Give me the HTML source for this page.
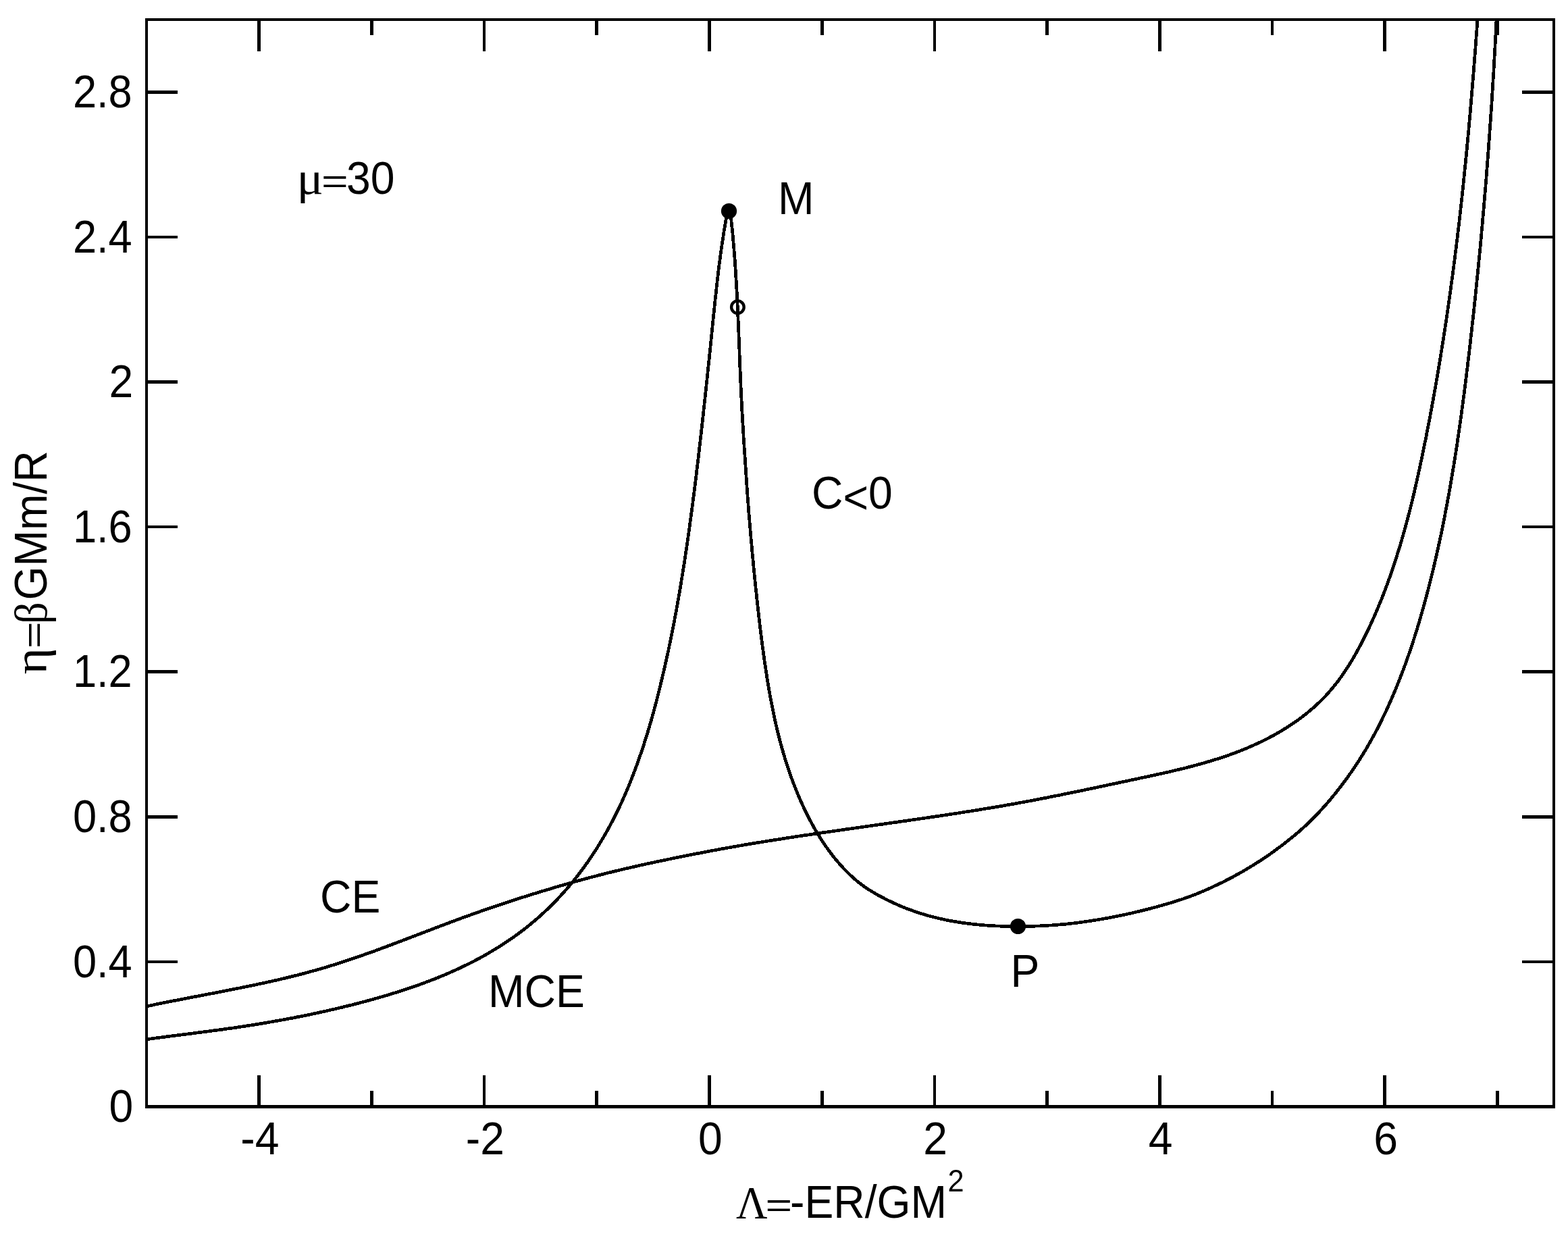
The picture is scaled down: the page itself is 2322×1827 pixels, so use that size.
<!DOCTYPE html>
<html lang="en"><head><meta charset="utf-8"><title>Caloric curve, mu=30</title>
<style>
html,body{margin:0;padding:0;background:#fff;}
body{width:2322px;height:1827px;overflow:hidden;}
svg{display:block;}
text{font-family:"Liberation Sans",sans-serif;fill:#000;}
.g{font-family:"Liberation Serif",serif;}
.ln{stroke:#000;stroke-width:4.4;fill:none;stroke-linecap:butt;stroke-linejoin:round;}
.cv{stroke-width:4.7;shape-rendering:crispEdges;}
</style></head><body>
<svg xmlns="http://www.w3.org/2000/svg" width="2322" height="1827" viewBox="0 0 2322 1827">
<rect x="0" y="0" width="2322" height="1827" fill="#fff"/>
<defs><clipPath id="fr"><rect x="216.9" y="29.0" width="2084.0" height="1609.5"/></clipPath></defs>
<g clip-path="url(#fr)">
<path class="ln cv" d="M210.0 1539.7 L215.9 1538.9 L221.9 1538.1 L227.8 1537.3 L233.7 1536.5 L239.7 1535.8 L245.6 1535.0 L251.5 1534.2 L257.5 1533.5 L263.4 1532.7 L269.3 1532.0 L275.3 1531.2 L281.2 1530.5 L287.1 1529.7 L293.0 1528.9 L299.0 1528.2 L304.9 1527.4 L310.8 1526.6 L316.7 1525.8 L322.6 1525.1 L328.6 1524.3 L334.5 1523.4 L340.4 1522.6 L346.3 1521.8 L352.2 1520.9 L358.1 1520.0 L364.0 1519.1 L369.9 1518.2 L375.8 1517.3 L381.7 1516.3 L387.6 1515.3 L393.5 1514.3 L399.4 1513.3 L405.3 1512.3 L411.2 1511.2 L417.0 1510.2 L422.9 1509.1 L428.8 1508.0 L434.7 1506.9 L440.5 1505.7 L446.4 1504.6 L452.3 1503.4 L458.1 1502.2 L464.0 1501.0 L469.8 1499.7 L475.7 1498.4 L481.5 1497.2 L487.3 1495.8 L493.2 1494.5 L499.0 1493.1 L504.8 1491.8 L510.6 1490.3 L516.5 1488.9 L522.3 1487.5 L528.1 1486.0 L533.9 1484.5 L539.7 1482.9 L545.5 1481.4 L551.2 1479.8 L557.0 1478.2 L562.8 1476.5 L568.6 1474.9 L574.3 1473.2 L580.1 1471.4 L585.8 1469.6 L591.6 1467.8 L597.3 1466.0 L603.0 1464.1 L608.7 1462.2 L614.4 1460.2 L620.1 1458.2 L625.8 1456.1 L631.4 1454.0 L637.1 1451.9 L642.7 1449.7 L648.3 1447.5 L653.8 1445.2 L659.4 1442.9 L664.9 1440.5 L670.4 1438.1 L675.9 1435.6 L681.3 1433.1 L686.7 1430.5 L692.1 1427.9 L697.4 1425.2 L702.8 1422.5 L708.1 1419.7 L713.3 1416.9 L718.5 1414.0 L723.7 1411.0 L728.8 1408.0 L733.9 1404.9 L739.0 1401.8 L744.0 1398.6 L749.0 1395.3 L754.0 1392.0 L758.8 1388.6 L763.7 1385.2 L768.5 1381.6 L773.3 1378.1 L778.0 1374.4 L782.6 1370.7 L787.2 1367.0 L791.8 1363.1 L796.3 1359.3 L800.7 1355.3 L805.1 1351.3 L809.5 1347.2 L813.8 1343.1 L818.0 1338.9 L822.2 1334.7 L826.3 1330.4 L830.4 1326.0 L834.4 1321.6 L838.3 1317.2 L842.2 1312.7 L846.1 1308.1 L849.9 1303.5 L853.6 1298.8 L857.2 1294.1 L860.8 1289.3 L864.4 1284.5 L867.9 1279.6 L871.3 1274.8 L874.7 1269.8 L878.0 1264.8 L881.3 1259.8 L884.5 1254.8 L887.6 1249.7 L890.7 1244.5 L893.8 1239.4 L896.8 1234.2 L899.7 1229.0 L902.6 1223.7 L905.4 1218.4 L908.2 1213.1 L910.9 1207.8 L913.6 1202.4 L916.2 1197.0 L918.8 1191.6 L921.3 1186.2 L923.7 1180.7 L926.1 1175.3 L928.5 1169.8 L930.8 1164.3 L933.0 1158.7 L935.2 1153.2 L937.4 1147.6 L939.5 1142.0 L941.6 1136.4 L943.7 1130.8 L945.7 1125.2 L947.6 1119.6 L949.6 1113.9 L951.5 1108.2 L953.4 1102.5 L955.2 1096.8 L957.0 1091.1 L958.8 1085.4 L960.5 1079.7 L962.2 1073.9 L963.9 1068.2 L965.5 1062.4 L967.1 1056.6 L968.7 1050.9 L970.2 1045.1 L971.8 1039.3 L973.3 1033.5 L974.8 1027.7 L976.2 1021.9 L977.6 1016.0 L979.0 1010.2 L980.4 1004.4 L981.8 998.6 L983.2 992.7 L984.5 986.9 L985.8 981.0 L987.1 975.2 L988.4 969.3 L989.7 963.5 L990.9 957.6 L992.1 951.8 L993.3 945.9 L994.5 940.1 L995.7 934.2 L996.9 928.3 L998.0 922.4 L999.1 916.6 L1000.2 910.7 L1001.3 904.8 L1002.4 898.9 L1003.4 893.0 L1004.4 887.2 L1005.5 881.3 L1006.5 875.4 L1007.5 869.5 L1008.5 863.6 L1009.4 857.7 L1010.4 851.8 L1011.3 845.9 L1012.3 840.0 L1013.2 834.1 L1014.1 828.2 L1015.0 822.2 L1015.9 816.3 L1016.8 810.4 L1017.6 804.5 L1018.5 798.6 L1019.3 792.7 L1020.2 786.7 L1021.0 780.8 L1021.8 774.9 L1022.6 769.0 L1023.4 763.0 L1024.2 757.1 L1025.0 751.2 L1025.8 745.2 L1026.5 739.3 L1027.3 733.4 L1028.1 727.4 L1028.8 721.5 L1029.5 715.6 L1030.3 709.6 L1031.0 703.7 L1031.7 697.7 L1032.4 691.8 L1033.2 685.8 L1033.9 679.9 L1034.6 674.0 L1035.2 668.0 L1035.9 662.1 L1036.6 656.1 L1037.3 650.2 L1038.0 644.2 L1038.6 638.3 L1039.3 632.3 L1040.0 626.4 L1040.6 620.4 L1041.3 614.5 L1041.9 608.5 L1042.6 602.6 L1043.2 596.6 L1043.9 590.7 L1044.5 584.7 L1045.2 578.8 L1045.8 572.8 L1046.4 566.9 L1047.1 560.9 L1047.7 555.0 L1048.3 549.0 L1048.9 543.1 L1049.5 537.1 L1050.2 531.2 L1050.8 525.2 L1051.4 519.3 L1052.0 513.3 L1052.6 507.4 L1053.2 501.4 L1053.8 495.5 L1054.4 489.6 L1055.0 483.6 L1055.6 477.7 L1056.2 471.7 L1056.8 465.8 L1057.5 459.8 L1058.1 453.9 L1058.7 448.0 L1059.3 442.0 L1060.0 436.1 L1060.6 430.1 L1061.3 424.2 L1061.9 418.3 L1062.6 412.3 L1063.3 406.4 L1064.0 400.5 L1064.7 394.6 L1065.5 388.6 L1066.3 382.7 L1067.1 376.8 L1067.9 370.9 L1068.7 365.0 L1069.6 359.1 L1070.5 353.2 L1071.4 347.3 L1072.3 341.4 L1073.3 335.5 L1074.3 329.6 L1075.3 323.7 L1076.3 317.9 L1077.4 312.0 L1082.0 318.1 L1082.7 324.0 L1083.3 329.9 L1083.9 335.8 L1084.5 341.7 L1085.1 347.6 L1085.6 353.6 L1086.1 359.5 L1086.7 365.4 L1087.1 371.4 L1087.6 377.3 L1088.1 383.3 L1088.5 389.3 L1088.9 395.2 L1089.3 401.2 L1089.7 407.2 L1090.0 413.1 L1090.4 419.1 L1090.7 425.1 L1091.1 431.1 L1091.4 437.1 L1091.7 443.1 L1092.0 449.1 L1092.3 455.1 L1092.5 461.1 L1092.8 467.1 L1093.1 473.1 L1093.3 479.1 L1093.6 485.1 L1093.8 491.1 L1094.1 497.1 L1094.3 503.1 L1094.5 509.1 L1094.8 515.1 L1095.0 521.1 L1095.2 527.1 L1095.5 533.1 L1095.7 539.1 L1095.9 545.1 L1096.2 551.1 L1096.4 557.1 L1096.7 563.1 L1097.0 569.1 L1097.2 575.1 L1097.5 581.1 L1097.8 587.1 L1098.1 593.1 L1098.4 599.1 L1098.7 605.1 L1099.0 611.1 L1099.4 617.0 L1099.7 623.0 L1100.1 629.0 L1100.4 635.0 L1100.8 640.9 L1101.1 646.9 L1101.5 652.9 L1101.9 658.8 L1102.3 664.8 L1102.7 670.7 L1103.1 676.7 L1103.5 682.7 L1103.9 688.6 L1104.3 694.6 L1104.7 700.5 L1105.1 706.5 L1105.5 712.4 L1105.9 718.4 L1106.3 724.3 L1106.7 730.3 L1107.2 736.2 L1107.6 742.1 L1108.1 748.1 L1108.5 754.0 L1109.0 760.0 L1109.5 765.9 L1110.0 771.9 L1110.5 777.8 L1111.0 783.8 L1111.5 789.7 L1112.0 795.6 L1112.5 801.6 L1113.1 807.5 L1113.6 813.5 L1114.1 819.4 L1114.7 825.4 L1115.3 831.3 L1115.8 837.3 L1116.4 843.2 L1117.0 849.2 L1117.6 855.1 L1118.2 861.1 L1118.8 867.0 L1119.4 873.0 L1120.1 878.9 L1120.7 884.9 L1121.3 890.9 L1122.0 896.8 L1122.7 902.8 L1123.3 908.8 L1124.0 914.7 L1124.7 920.7 L1125.4 926.7 L1126.1 932.6 L1126.8 938.6 L1127.6 944.6 L1128.4 950.6 L1129.1 956.6 L1129.9 962.5 L1130.7 968.5 L1131.6 974.5 L1132.4 980.5 L1133.3 986.4 L1134.2 992.4 L1135.1 998.3 L1136.0 1004.3 L1137.0 1010.3 L1138.0 1016.2 L1139.0 1022.1 L1140.0 1028.1 L1141.1 1034.0 L1142.2 1039.9 L1143.4 1045.8 L1144.6 1051.7 L1145.8 1057.6 L1147.0 1063.4 L1148.3 1069.3 L1149.7 1075.2 L1151.0 1081.0 L1152.5 1086.8 L1153.9 1092.6 L1155.4 1098.4 L1157.0 1104.2 L1158.6 1109.9 L1160.3 1115.7 L1162.0 1121.4 L1163.7 1127.1 L1165.5 1132.8 L1167.4 1138.5 L1169.3 1144.1 L1171.3 1149.8 L1173.4 1155.4 L1175.5 1161.0 L1177.7 1166.5 L1179.9 1172.1 L1182.2 1177.6 L1184.5 1183.1 L1187.0 1188.6 L1189.4 1194.0 L1192.0 1199.4 L1194.6 1204.8 L1197.3 1210.2 L1200.1 1215.5 L1203.0 1220.8 L1205.9 1226.0 L1208.9 1231.2 L1212.0 1236.3 L1215.2 1241.4 L1218.4 1246.4 L1221.8 1251.4 L1225.2 1256.2 L1228.7 1261.0 L1232.3 1265.8 L1235.9 1270.4 L1239.7 1275.0 L1243.6 1279.4 L1247.5 1283.8 L1251.5 1288.1 L1255.7 1292.2 L1259.9 1296.3 L1264.2 1300.2 L1268.6 1304.0 L1273.1 1307.6 L1277.7 1311.1 L1282.4 1314.4 L1287.2 1317.5 L1292.1 1320.5 L1297.1 1323.5 L1302.1 1326.3 L1307.3 1329.0 L1312.5 1331.7 L1317.8 1334.3 L1323.2 1336.8 L1328.7 1339.3 L1334.2 1341.7 L1339.7 1344.0 L1345.4 1346.1 L1351.1 1348.2 L1356.8 1350.2 L1362.6 1352.1 L1368.4 1353.9 L1374.2 1355.6 L1380.1 1357.2 L1386.1 1358.7 L1392.0 1360.1 L1398.0 1361.4 L1404.0 1362.7 L1410.0 1363.8 L1416.0 1364.8 L1422.1 1365.8 L1428.1 1366.7 L1434.2 1367.4 L1440.2 1368.2 L1446.2 1368.8 L1452.3 1369.4 L1458.3 1369.9 L1464.3 1370.3 L1470.3 1370.7 L1476.4 1371.0 L1482.4 1371.2 L1488.4 1371.4 L1494.4 1371.6 L1500.4 1371.6 L1506.4 1371.7 L1512.4 1371.7 L1518.4 1371.6 L1524.3 1371.4 L1530.3 1371.3 L1536.3 1371.0 L1542.3 1370.8 L1548.2 1370.5 L1554.2 1370.1 L1560.1 1369.7 L1566.1 1369.2 L1572.0 1368.7 L1578.0 1368.2 L1583.9 1367.5 L1589.9 1366.9 L1595.8 1366.1 L1601.7 1365.4 L1607.6 1364.5 L1613.6 1363.6 L1619.5 1362.7 L1625.4 1361.8 L1631.3 1360.8 L1637.2 1359.7 L1643.1 1358.7 L1649.0 1357.5 L1654.8 1356.4 L1660.7 1355.1 L1666.6 1353.9 L1672.5 1352.6 L1678.3 1351.3 L1684.2 1349.9 L1690.0 1348.5 L1695.9 1347.0 L1701.7 1345.6 L1707.5 1344.0 L1713.3 1342.5 L1719.1 1340.9 L1724.9 1339.2 L1730.7 1337.5 L1736.4 1335.8 L1742.2 1334.0 L1747.9 1332.2 L1753.6 1330.3 L1759.2 1328.3 L1764.9 1326.2 L1770.5 1324.1 L1776.1 1321.8 L1781.6 1319.5 L1787.2 1317.0 L1792.7 1314.6 L1798.1 1312.0 L1803.6 1309.5 L1809.0 1306.9 L1814.4 1304.2 L1819.7 1301.5 L1825.0 1298.7 L1830.2 1295.8 L1835.5 1292.9 L1840.7 1290.0 L1845.8 1287.0 L1850.9 1283.9 L1856.0 1280.8 L1861.0 1277.6 L1866.0 1274.4 L1871.0 1271.2 L1875.9 1267.8 L1880.8 1264.5 L1885.6 1261.0 L1890.4 1257.5 L1895.1 1254.0 L1899.9 1250.5 L1904.5 1246.9 L1909.1 1243.2 L1913.7 1239.5 L1918.3 1235.7 L1922.8 1231.9 L1927.2 1228.0 L1931.7 1223.9 L1936.1 1219.9 L1940.4 1215.7 L1944.7 1211.5 L1948.9 1207.2 L1953.0 1202.8 L1957.1 1198.4 L1961.1 1194.0 L1965.1 1189.5 L1969.0 1184.9 L1972.8 1180.3 L1976.6 1175.7 L1980.3 1171.0 L1984.0 1166.3 L1987.6 1161.5 L1991.2 1156.7 L1994.8 1151.9 L1998.3 1147.0 L2001.7 1142.1 L2005.1 1137.2 L2008.4 1132.2 L2011.7 1127.2 L2014.9 1122.1 L2018.1 1117.0 L2021.2 1111.9 L2024.3 1106.8 L2027.3 1101.6 L2030.2 1096.4 L2033.1 1091.2 L2036.0 1085.9 L2038.8 1080.7 L2041.5 1075.4 L2044.2 1070.0 L2046.8 1064.7 L2049.4 1059.3 L2052.0 1053.9 L2054.5 1048.5 L2056.9 1043.1 L2059.4 1037.6 L2061.8 1032.1 L2064.1 1026.6 L2066.4 1021.1 L2068.7 1015.6 L2070.9 1010.0 L2073.1 1004.4 L2075.3 998.8 L2077.4 993.2 L2079.5 987.6 L2081.6 982.0 L2083.6 976.3 L2085.6 970.7 L2087.6 965.0 L2089.5 959.3 L2091.4 953.6 L2093.2 947.9 L2095.1 942.2 L2096.9 936.5 L2098.6 930.8 L2100.4 925.0 L2102.1 919.3 L2103.7 913.5 L2105.4 907.8 L2107.0 902.0 L2108.6 896.3 L2110.2 890.5 L2111.8 884.7 L2113.3 878.9 L2114.8 873.1 L2116.3 867.3 L2117.8 861.5 L2119.2 855.7 L2120.7 849.9 L2122.1 844.1 L2123.5 838.3 L2124.8 832.5 L2126.2 826.6 L2127.5 820.8 L2128.8 815.0 L2130.1 809.1 L2131.4 803.3 L2132.6 797.4 L2133.9 791.6 L2135.1 785.7 L2136.3 779.9 L2137.5 774.0 L2138.7 768.1 L2139.8 762.3 L2140.9 756.4 L2142.1 750.5 L2143.2 744.6 L2144.2 738.7 L2145.3 732.8 L2146.4 726.9 L2147.4 721.0 L2148.4 715.1 L2149.4 709.2 L2150.4 703.3 L2151.4 697.4 L2152.4 691.5 L2153.4 685.6 L2154.3 679.7 L2155.2 673.8 L2156.2 667.8 L2157.1 661.9 L2158.0 656.0 L2158.8 650.0 L2159.7 644.1 L2160.6 638.2 L2161.4 632.3 L2162.3 626.3 L2163.1 620.4 L2163.9 614.4 L2164.7 608.5 L2165.5 602.6 L2166.3 596.6 L2167.1 590.7 L2167.9 584.7 L2168.6 578.8 L2169.4 572.8 L2170.1 566.9 L2170.9 560.9 L2171.6 555.0 L2172.3 549.0 L2173.1 543.1 L2173.8 537.1 L2174.5 531.2 L2175.2 525.2 L2175.9 519.3 L2176.6 513.3 L2177.3 507.4 L2177.9 501.4 L2178.6 495.4 L2179.3 489.5 L2179.9 483.5 L2180.6 477.6 L2181.3 471.6 L2181.9 465.7 L2182.6 459.7 L2183.2 453.8 L2183.8 447.8 L2184.5 441.9 L2185.1 435.9 L2185.7 429.9 L2186.3 424.0 L2186.9 418.0 L2187.5 412.1 L2188.1 406.1 L2188.7 400.2 L2189.3 394.2 L2189.9 388.2 L2190.4 382.3 L2191.0 376.3 L2191.6 370.4 L2192.2 364.4 L2192.7 358.5 L2193.3 352.5 L2193.8 346.5 L2194.3 340.6 L2194.9 334.6 L2195.4 328.7 L2195.9 322.7 L2196.5 316.7 L2197.0 310.8 L2197.5 304.8 L2198.0 298.8 L2198.5 292.9 L2199.0 286.9 L2199.5 280.9 L2200.0 275.0 L2200.5 269.0 L2201.0 263.1 L2201.4 257.1 L2201.9 251.1 L2202.4 245.2 L2202.8 239.2 L2203.3 233.2 L2203.7 227.3 L2204.2 221.3 L2204.6 215.3 L2205.0 209.3 L2205.5 203.4 L2205.9 197.4 L2206.3 191.4 L2206.7 185.5 L2207.2 179.5 L2207.6 173.5 L2208.0 167.5 L2208.4 161.6 L2208.8 155.6 L2209.2 149.6 L2209.5 143.6 L2209.9 137.7 L2210.3 131.7 L2210.7 125.7 L2211.0 119.7 L2211.4 113.7 L2211.8 107.8 L2212.1 101.8 L2212.5 95.8 L2212.8 89.8 L2213.1 83.8 L2213.5 77.8 L2213.8 71.9 L2214.1 65.9 L2214.5 59.9 L2214.8 53.9 L2215.1 47.9 L2215.4 41.9 L2215.7 35.9 L2216.0 29.9 L2216.3 23.9 L2216.6 17.9 L2216.9 12.0"/>
<path class="ln cv" d="M210.1 1491.4 L215.9 1490.2 L221.7 1488.9 L227.6 1487.7 L233.4 1486.5 L239.3 1485.3 L245.2 1484.1 L251.0 1483.0 L256.9 1481.8 L262.8 1480.7 L268.6 1479.5 L274.5 1478.4 L280.4 1477.2 L286.3 1476.1 L292.2 1475.0 L298.1 1473.9 L304.0 1472.7 L309.9 1471.6 L315.8 1470.5 L321.7 1469.3 L327.6 1468.2 L333.4 1467.0 L339.3 1465.9 L345.2 1464.7 L351.1 1463.6 L357.0 1462.4 L362.9 1461.2 L368.8 1460.0 L374.6 1458.8 L380.5 1457.5 L386.4 1456.3 L392.2 1455.0 L398.1 1453.7 L404.0 1452.4 L409.8 1451.1 L415.6 1449.7 L421.5 1448.4 L427.3 1446.9 L433.1 1445.5 L438.9 1444.1 L444.7 1442.6 L450.5 1441.1 L456.3 1439.5 L462.1 1437.9 L467.9 1436.3 L473.6 1434.7 L479.4 1433.0 L485.1 1431.3 L490.8 1429.5 L496.5 1427.8 L502.2 1426.0 L507.9 1424.1 L513.6 1422.2 L519.3 1420.3 L525.0 1418.4 L530.6 1416.5 L536.3 1414.5 L541.9 1412.5 L547.6 1410.5 L553.2 1408.5 L558.9 1406.4 L564.5 1404.3 L570.1 1402.3 L575.7 1400.2 L581.3 1398.1 L587.0 1395.9 L592.6 1393.8 L598.2 1391.7 L603.8 1389.5 L609.4 1387.4 L615.0 1385.3 L620.6 1383.1 L626.2 1381.0 L631.8 1378.8 L637.4 1376.7 L643.0 1374.5 L648.6 1372.4 L654.2 1370.3 L659.9 1368.2 L665.5 1366.0 L671.1 1363.9 L676.7 1361.9 L682.3 1359.8 L688.0 1357.7 L693.6 1355.7 L699.2 1353.7 L704.9 1351.7 L710.5 1349.7 L716.2 1347.7 L721.9 1345.7 L727.5 1343.8 L733.2 1341.9 L738.9 1340.0 L744.6 1338.1 L750.2 1336.2 L755.9 1334.4 L761.6 1332.5 L767.3 1330.7 L773.0 1328.8 L778.7 1327.0 L784.5 1325.2 L790.2 1323.4 L795.9 1321.7 L801.6 1319.9 L807.4 1318.2 L813.1 1316.5 L818.8 1314.7 L824.6 1313.0 L830.3 1311.4 L836.1 1309.7 L841.9 1308.1 L847.6 1306.4 L853.4 1304.8 L859.2 1303.2 L864.9 1301.6 L870.7 1300.1 L876.5 1298.5 L882.3 1297.0 L888.1 1295.5 L893.9 1294.0 L899.7 1292.5 L905.5 1291.1 L911.3 1289.7 L917.1 1288.3 L922.9 1286.9 L928.7 1285.6 L934.6 1284.2 L940.4 1282.9 L946.2 1281.6 L952.1 1280.3 L957.9 1279.0 L963.7 1277.7 L969.6 1276.5 L975.4 1275.2 L981.3 1274.0 L987.1 1272.8 L993.0 1271.6 L998.8 1270.4 L1004.7 1269.2 L1010.6 1268.0 L1016.4 1266.9 L1022.3 1265.7 L1028.2 1264.5 L1034.1 1263.4 L1039.9 1262.3 L1045.8 1261.1 L1051.7 1260.0 L1057.6 1258.9 L1063.5 1257.8 L1069.4 1256.7 L1075.3 1255.7 L1081.2 1254.6 L1087.1 1253.6 L1093.0 1252.5 L1098.9 1251.5 L1104.8 1250.5 L1110.7 1249.5 L1116.6 1248.5 L1122.5 1247.5 L1128.5 1246.6 L1134.4 1245.6 L1140.3 1244.7 L1146.2 1243.7 L1152.1 1242.8 L1158.1 1241.9 L1164.0 1240.9 L1169.9 1240.0 L1175.9 1239.1 L1181.8 1238.2 L1187.7 1237.3 L1193.7 1236.4 L1199.6 1235.6 L1205.5 1234.7 L1211.5 1233.8 L1217.4 1232.9 L1223.3 1232.1 L1229.3 1231.2 L1235.2 1230.4 L1241.2 1229.5 L1247.1 1228.7 L1253.0 1227.8 L1259.0 1227.0 L1264.9 1226.1 L1270.9 1225.3 L1276.8 1224.4 L1282.8 1223.6 L1288.7 1222.8 L1294.6 1221.9 L1300.6 1221.1 L1306.5 1220.3 L1312.5 1219.4 L1318.4 1218.6 L1324.3 1217.7 L1330.3 1216.9 L1336.2 1216.0 L1342.1 1215.2 L1348.1 1214.3 L1354.0 1213.5 L1359.9 1212.6 L1365.9 1211.8 L1371.8 1210.9 L1377.7 1210.0 L1383.7 1209.1 L1389.6 1208.3 L1395.5 1207.4 L1401.4 1206.5 L1407.3 1205.6 L1413.3 1204.7 L1419.2 1203.8 L1425.1 1202.8 L1431.0 1201.9 L1436.9 1201.0 L1442.8 1200.0 L1448.7 1199.1 L1454.6 1198.1 L1460.5 1197.1 L1466.4 1196.2 L1472.3 1195.2 L1478.2 1194.2 L1484.1 1193.2 L1490.0 1192.1 L1495.9 1191.1 L1501.7 1190.1 L1507.6 1189.0 L1513.5 1187.9 L1519.4 1186.9 L1525.2 1185.8 L1531.1 1184.6 L1536.9 1183.5 L1542.8 1182.4 L1548.7 1181.3 L1554.5 1180.1 L1560.4 1178.9 L1566.2 1177.8 L1572.1 1176.6 L1577.9 1175.4 L1583.8 1174.2 L1589.6 1173.0 L1595.5 1171.8 L1601.3 1170.6 L1607.2 1169.4 L1613.0 1168.1 L1618.9 1166.9 L1624.7 1165.7 L1630.6 1164.4 L1636.5 1163.2 L1642.3 1161.9 L1648.2 1160.7 L1654.1 1159.4 L1659.9 1158.2 L1665.8 1156.9 L1671.7 1155.7 L1677.6 1154.4 L1683.5 1153.2 L1689.4 1151.9 L1695.3 1150.7 L1701.2 1149.4 L1707.1 1148.1 L1713.0 1146.8 L1718.9 1145.5 L1724.8 1144.2 L1730.7 1142.9 L1736.5 1141.5 L1742.4 1140.1 L1748.3 1138.7 L1754.1 1137.3 L1760.0 1135.8 L1765.8 1134.3 L1771.7 1132.7 L1777.5 1131.1 L1783.3 1129.5 L1789.0 1127.8 L1794.8 1126.1 L1800.6 1124.3 L1806.3 1122.5 L1812.0 1120.6 L1817.7 1118.7 L1823.3 1116.7 L1828.9 1114.6 L1834.6 1112.5 L1840.1 1110.3 L1845.7 1108.0 L1851.2 1105.6 L1856.7 1103.2 L1862.2 1100.7 L1867.6 1098.2 L1873.0 1095.5 L1878.3 1092.8 L1883.6 1090.0 L1888.9 1087.1 L1894.1 1084.1 L1899.2 1081.1 L1904.3 1077.9 L1909.3 1074.7 L1914.3 1071.4 L1919.2 1068.0 L1924.1 1064.6 L1928.8 1061.0 L1933.5 1057.4 L1938.1 1053.6 L1942.6 1049.8 L1947.1 1045.9 L1951.4 1041.9 L1955.7 1037.8 L1959.9 1033.6 L1964.0 1029.3 L1967.9 1024.9 L1971.8 1020.4 L1975.6 1015.8 L1979.3 1011.2 L1982.9 1006.5 L1986.4 1001.6 L1989.8 996.8 L1993.1 991.8 L1996.4 986.8 L1999.5 981.7 L2002.6 976.6 L2005.7 971.4 L2008.6 966.2 L2011.5 960.9 L2014.4 955.6 L2017.2 950.2 L2019.9 944.9 L2022.6 939.5 L2025.2 934.1 L2027.8 928.7 L2030.3 923.2 L2032.8 917.8 L2035.2 912.3 L2037.6 906.8 L2040.0 901.3 L2042.3 895.7 L2044.6 890.2 L2046.8 884.6 L2049.0 879.1 L2051.1 873.5 L2053.2 867.9 L2055.3 862.3 L2057.3 856.6 L2059.3 851.0 L2061.3 845.3 L2063.2 839.6 L2065.1 834.0 L2066.9 828.3 L2068.7 822.6 L2070.5 816.8 L2072.3 811.1 L2074.0 805.4 L2075.7 799.6 L2077.4 793.9 L2079.0 788.1 L2080.6 782.3 L2082.2 776.5 L2083.8 770.7 L2085.3 764.9 L2086.8 759.1 L2088.3 753.3 L2089.7 747.5 L2091.2 741.7 L2092.6 735.8 L2094.0 730.0 L2095.3 724.1 L2096.7 718.3 L2098.0 712.4 L2099.3 706.5 L2100.6 700.7 L2101.9 694.8 L2103.2 688.9 L2104.4 683.1 L2105.7 677.2 L2106.9 671.3 L2108.1 665.4 L2109.3 659.5 L2110.5 653.6 L2111.7 647.8 L2112.8 641.9 L2114.0 636.0 L2115.1 630.1 L2116.2 624.2 L2117.4 618.3 L2118.5 612.4 L2119.6 606.5 L2120.7 600.6 L2121.8 594.7 L2122.8 588.8 L2123.9 582.9 L2124.9 577.0 L2126.0 571.1 L2127.0 565.2 L2128.0 559.3 L2129.0 553.4 L2130.0 547.5 L2131.0 541.6 L2132.0 535.7 L2133.0 529.8 L2133.9 523.9 L2134.9 518.0 L2135.8 512.0 L2136.8 506.1 L2137.7 500.2 L2138.6 494.3 L2139.5 488.4 L2140.4 482.5 L2141.3 476.6 L2142.2 470.6 L2143.1 464.7 L2143.9 458.8 L2144.8 452.9 L2145.6 447.0 L2146.5 441.0 L2147.3 435.1 L2148.1 429.2 L2148.9 423.2 L2149.7 417.3 L2150.5 411.4 L2151.3 405.5 L2152.1 399.5 L2152.9 393.6 L2153.6 387.7 L2154.4 381.7 L2155.1 375.8 L2155.9 369.9 L2156.6 363.9 L2157.3 358.0 L2158.1 352.0 L2158.8 346.1 L2159.5 340.2 L2160.2 334.2 L2160.9 328.3 L2161.6 322.3 L2162.2 316.4 L2162.9 310.4 L2163.6 304.5 L2164.2 298.6 L2164.9 292.6 L2165.5 286.7 L2166.2 280.7 L2166.8 274.8 L2167.4 268.8 L2168.0 262.8 L2168.6 256.9 L2169.2 250.9 L2169.8 245.0 L2170.4 239.0 L2171.0 233.1 L2171.6 227.1 L2172.2 221.1 L2172.7 215.2 L2173.3 209.2 L2173.9 203.2 L2174.4 197.3 L2175.0 191.3 L2175.5 185.4 L2176.0 179.4 L2176.6 173.4 L2177.1 167.4 L2177.6 161.5 L2178.1 155.5 L2178.6 149.5 L2179.1 143.6 L2179.6 137.6 L2180.1 131.6 L2180.6 125.6 L2181.1 119.7 L2181.6 113.7 L2182.1 107.7 L2182.6 101.7 L2183.0 95.7 L2183.5 89.8 L2183.9 83.8 L2184.4 77.8 L2184.9 71.8 L2185.3 65.8 L2185.7 59.8 L2186.2 53.8 L2186.6 47.8 L2187.1 41.9 L2187.5 35.9 L2187.9 29.9 L2188.3 23.9 L2188.7 17.9 L2189.2 11.9"/>
</g>
<g fill="#000" shape-rendering="crispEdges">
<rect x="215" y="27" width="4" height="1614"/><rect x="2299" y="27" width="4" height="1614"/><rect x="215" y="27" width="2088" height="4"/><rect x="215" y="1636" width="2088" height="5"/>
<rect x="381" y="1592" width="5" height="45"/><rect x="381" y="30" width="5" height="46"/><rect x="548" y="1615" width="5" height="22"/><rect x="548" y="30" width="5" height="22"/><rect x="715" y="1592" width="4" height="45"/><rect x="715" y="30" width="4" height="46"/><rect x="881" y="1615" width="5" height="22"/><rect x="881" y="30" width="5" height="22"/><rect x="1048" y="1592" width="5" height="45"/><rect x="1048" y="30" width="5" height="46"/><rect x="1215" y="1615" width="5" height="22"/><rect x="1215" y="30" width="5" height="22"/><rect x="1382" y="1592" width="4" height="45"/><rect x="1382" y="30" width="4" height="46"/><rect x="1548" y="1615" width="5" height="22"/><rect x="1548" y="30" width="5" height="22"/><rect x="1715" y="1592" width="5" height="45"/><rect x="1715" y="30" width="5" height="46"/><rect x="1882" y="1615" width="4" height="22"/><rect x="1882" y="30" width="4" height="22"/><rect x="2048" y="1592" width="5" height="45"/><rect x="2048" y="30" width="5" height="46"/><rect x="2215" y="1615" width="5" height="22"/><rect x="2215" y="30" width="5" height="22"/>
<rect x="218" y="1422" width="45" height="4"/><rect x="2254" y="1422" width="46" height="4"/><rect x="218" y="1207" width="45" height="5"/><rect x="2254" y="1207" width="46" height="5"/><rect x="218" y="992" width="45" height="5"/><rect x="2254" y="992" width="46" height="5"/><rect x="218" y="778" width="45" height="4"/><rect x="2254" y="778" width="46" height="4"/><rect x="218" y="563" width="45" height="5"/><rect x="2254" y="563" width="46" height="5"/><rect x="218" y="349" width="45" height="4"/><rect x="2254" y="349" width="46" height="4"/><rect x="218" y="134" width="45" height="5"/><rect x="2254" y="134" width="46" height="5"/>
</g>
<text transform="translate(384.92 1708.50) scale(0.938 1)" font-size="68.5" text-anchor="middle">-4</text>
<text transform="translate(718.36 1708.50) scale(0.938 1)" font-size="68.5" text-anchor="middle">-2</text>
<text transform="translate(1051.80 1708.50) scale(0.938 1)" font-size="68.5" text-anchor="middle">0</text>
<text transform="translate(1385.24 1708.50) scale(0.938 1)" font-size="68.5" text-anchor="middle">2</text>
<text transform="translate(1718.68 1708.50) scale(0.938 1)" font-size="68.5" text-anchor="middle">4</text>
<text transform="translate(2052.12 1708.50) scale(0.938 1)" font-size="68.5" text-anchor="middle">6</text>
<text transform="translate(197.30 1661.20) scale(0.938 1)" font-size="68.5" text-anchor="end">0</text>
<text transform="translate(195.70 1446.60) scale(0.922 1)" font-size="68.5" text-anchor="end">0.4</text>
<text transform="translate(195.70 1232.00) scale(0.922 1)" font-size="68.5" text-anchor="end">0.8</text>
<text transform="translate(195.70 1017.40) scale(0.922 1)" font-size="68.5" text-anchor="end">1.2</text>
<text transform="translate(195.70 802.80) scale(0.922 1)" font-size="68.5" text-anchor="end">1.6</text>
<text transform="translate(197.30 588.20) scale(0.938 1)" font-size="68.5" text-anchor="end">2</text>
<text transform="translate(195.70 373.60) scale(0.922 1)" font-size="68.5" text-anchor="end">2.4</text>
<text transform="translate(195.70 159.00) scale(0.922 1)" font-size="68.5" text-anchor="end">2.8</text>
<text transform="translate(1091.00 1803.00) scale(0.938 1)" font-size="68.5" text-anchor="start"><tspan class="g" x="-1.07">Λ</tspan><tspan x="45.31" dy="-2.50" font-size="50" textLength="42.3" lengthAdjust="spacingAndGlyphs">=</tspan><tspan x="84.22" dy="2.50">-ER/GM</tspan><tspan x="333.16" dy="-39.00" font-size="46.2">2</tspan></text>
<text transform="translate(69.00 998.00) rotate(-90) scale(0.938 1)" font-size="68.5" text-anchor="start"><tspan class="g" x="-0.53" textLength="42" lengthAdjust="spacingAndGlyphs">η</tspan><tspan x="40.51" dy="-2.50" font-size="50" textLength="42.3" lengthAdjust="spacingAndGlyphs">=</tspan><tspan class="g" x="78.89" dy="2.50">β</tspan><tspan x="116.74">GMm/R</tspan></text>
<text transform="translate(442.00 287.00) scale(0.938 1)" font-size="68.5" text-anchor="start"><tspan class="g" x="-2.67" textLength="42" lengthAdjust="spacingAndGlyphs">μ</tspan><tspan x="36.25" dy="-2.50" font-size="50" textLength="42.3" lengthAdjust="spacingAndGlyphs">=</tspan><tspan x="75.69" dy="2.50">30</tspan></text>
<text transform="translate(1152.00 316.60) scale(0.938 1)" font-size="68.5" text-anchor="start">M</text>
<text transform="translate(1202.00 752.70) scale(0.938 1)" font-size="68.5" text-anchor="start">C<tspan dy="7.50">&lt;</tspan><tspan dy="-7.50">0</tspan></text>
<text transform="translate(474.00 1351.00) scale(0.938 1)" font-size="68.5" text-anchor="start">CE</text>
<text transform="translate(723.00 1491.00) scale(0.938 1)" font-size="68.5" text-anchor="start">MCE</text>
<text transform="translate(1496.50 1461.00) scale(0.938 1)" font-size="68.5" text-anchor="start">P</text>
<circle cx="1079.5" cy="312.5" r="11.6" fill="#000"/>
<circle cx="1507.5" cy="1371.5" r="11.6" fill="#000"/>
<circle cx="1092.4" cy="454.7" r="9.3" fill="none" stroke="#000" stroke-width="4.4"/>
</svg>
</body></html>
